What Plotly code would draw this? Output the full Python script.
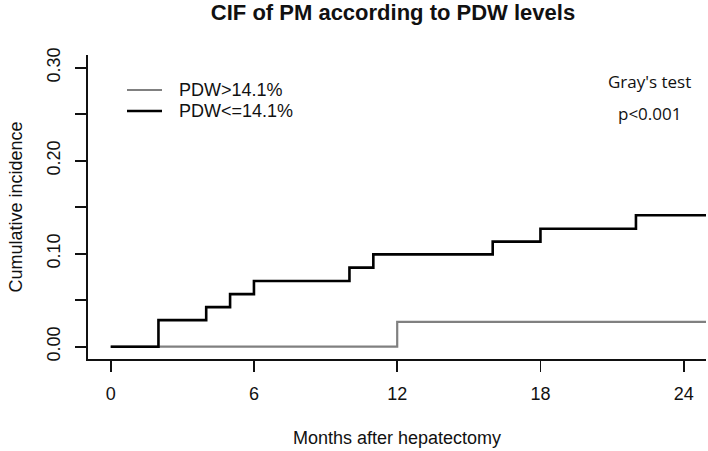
import plotly.graph_objects as go

# Data
months_low = [0, 2, 4, 5, 6, 10, 11, 16, 18, 22, 25]
cif_low = [0.0, 0.0286, 0.0425, 0.0565, 0.0707, 0.0850, 0.0993, 0.1130, 0.1268, 0.1413, 0.1413]
months_high = [0, 12, 25]
cif_high = [0.0, 0.0266, 0.0266]

x_ticks = [0, 6, 12, 18, 24]
y_ticks = [0.0, 0.05, 0.10, 0.15, 0.20, 0.25, 0.30]
y_labels = ["0.00", "", "0.10", "", "0.20", "", "0.30"]

name_high = "PDW>14.1%"
name_low = "PDW<=14.1%"
col_high = "#808080"
col_low = "#000000"

FONT = "Liberation Sans, Arial, sans-serif"
INK = "#111111"

fig = go.Figure()
fig.add_trace(go.Scatter(x=months_high, y=cif_high, mode="lines", name=name_high,
                         showlegend=False,
                         line=dict(color=col_high, width=2.2, shape="hv")))
fig.add_trace(go.Scatter(x=months_low, y=cif_low, mode="lines", name=name_low,
                         showlegend=False,
                         line=dict(color=col_low, width=2.6, shape="hv")))

# legend drawn as R's legend(): short line + label (plot-area paper coords)
W, H = 618.0, 304.0   # plot area size in px
def px(xp):  # page x -> paper x
    return (xp - 88) / W
def py(yp):  # page y -> paper y
    return (359 - yp) / H

legend_rows = [(name_high, col_high, 2.2, 90), (name_low, col_low, 2.6, 111)]
shapes = []
annotations = []
for label, col, w, yy in legend_rows:
    shapes.append(dict(type="line", xref="paper", yref="paper",
                       x0=px(127), x1=px(162), y0=py(yy), y1=py(yy),
                       line=dict(color=col, width=w)))
    annotations.append(dict(text=label, xref="paper", yref="paper",
                            x=px(177), y=py(yy), xanchor="left", yanchor="middle",
                            showarrow=False,
                            font=dict(family=FONT, size=18, color=INK)))

annotations += [
    dict(text="Gray's test", x=22.55, y=0.285, xref="x", yref="y",
         showarrow=False, xanchor="center", yanchor="middle",
         font=dict(family="Open Sans, Noto Sans, sans-serif", size=17, color=INK)),
    dict(text="p<0.001", x=22.55, y=0.251, xref="x", yref="y",
         showarrow=False, xanchor="center", yanchor="middle",
         font=dict(family="Open Sans, Noto Sans, sans-serif", size=17, color=INK)),
]

fig.update_layout(
    width=708, height=451,
    margin=dict(l=88, r=2, t=55, b=92, autoexpand=False),
    paper_bgcolor="white", plot_bgcolor="white",
    font=dict(family=FONT, size=18, color=INK),
    title=dict(text="<b>CIF of PM according to PDW levels</b>",
               font=dict(family=FONT, size=22, color=INK),
               x=393 / 708, xanchor="center", xref="container",
               y=1 - 12.5 / 451, yanchor="middle", yref="container"),
    showlegend=False,
    shapes=shapes,
    annotations=annotations,
)

fig.update_xaxes(
    range=[-0.951, 24.934], tickvals=x_ticks, ticktext=[str(v) for v in x_ticks],
    showgrid=False, zeroline=False, automargin=False,
    showline=True, linecolor=INK, linewidth=1.7, mirror=False,
    ticks="outside", ticklen=11, tickwidth=1.6, tickcolor=INK,
    ticklabelstandoff=7,
    tickfont=dict(family=FONT, size=18, color=INK),
    title=dict(text="Months after hepatectomy", standoff=28,
               font=dict(family=FONT, size=18, color=INK)),
)
fig.update_yaxes(
    range=[-0.01323, 0.31366], tickvals=y_ticks, ticktext=y_labels,
    tickangle=-90,
    showgrid=False, zeroline=False, automargin=False,
    showline=True, linecolor=INK, linewidth=1.7, mirror=False,
    ticks="outside", ticklen=11, tickwidth=1.6, tickcolor=INK,
    ticklabelstandoff=8,
    tickfont=dict(family=FONT, size=18, color=INK),
    title=dict(text="Cumulative incidence", standoff=17,
               font=dict(family=FONT, size=18, color=INK)),
)

fig.write_html("out.html",
               config={"displayModeBar": False, "staticPlot": True},
               post_script="document.body.style.margin='0';document.body.style.padding='0';")
